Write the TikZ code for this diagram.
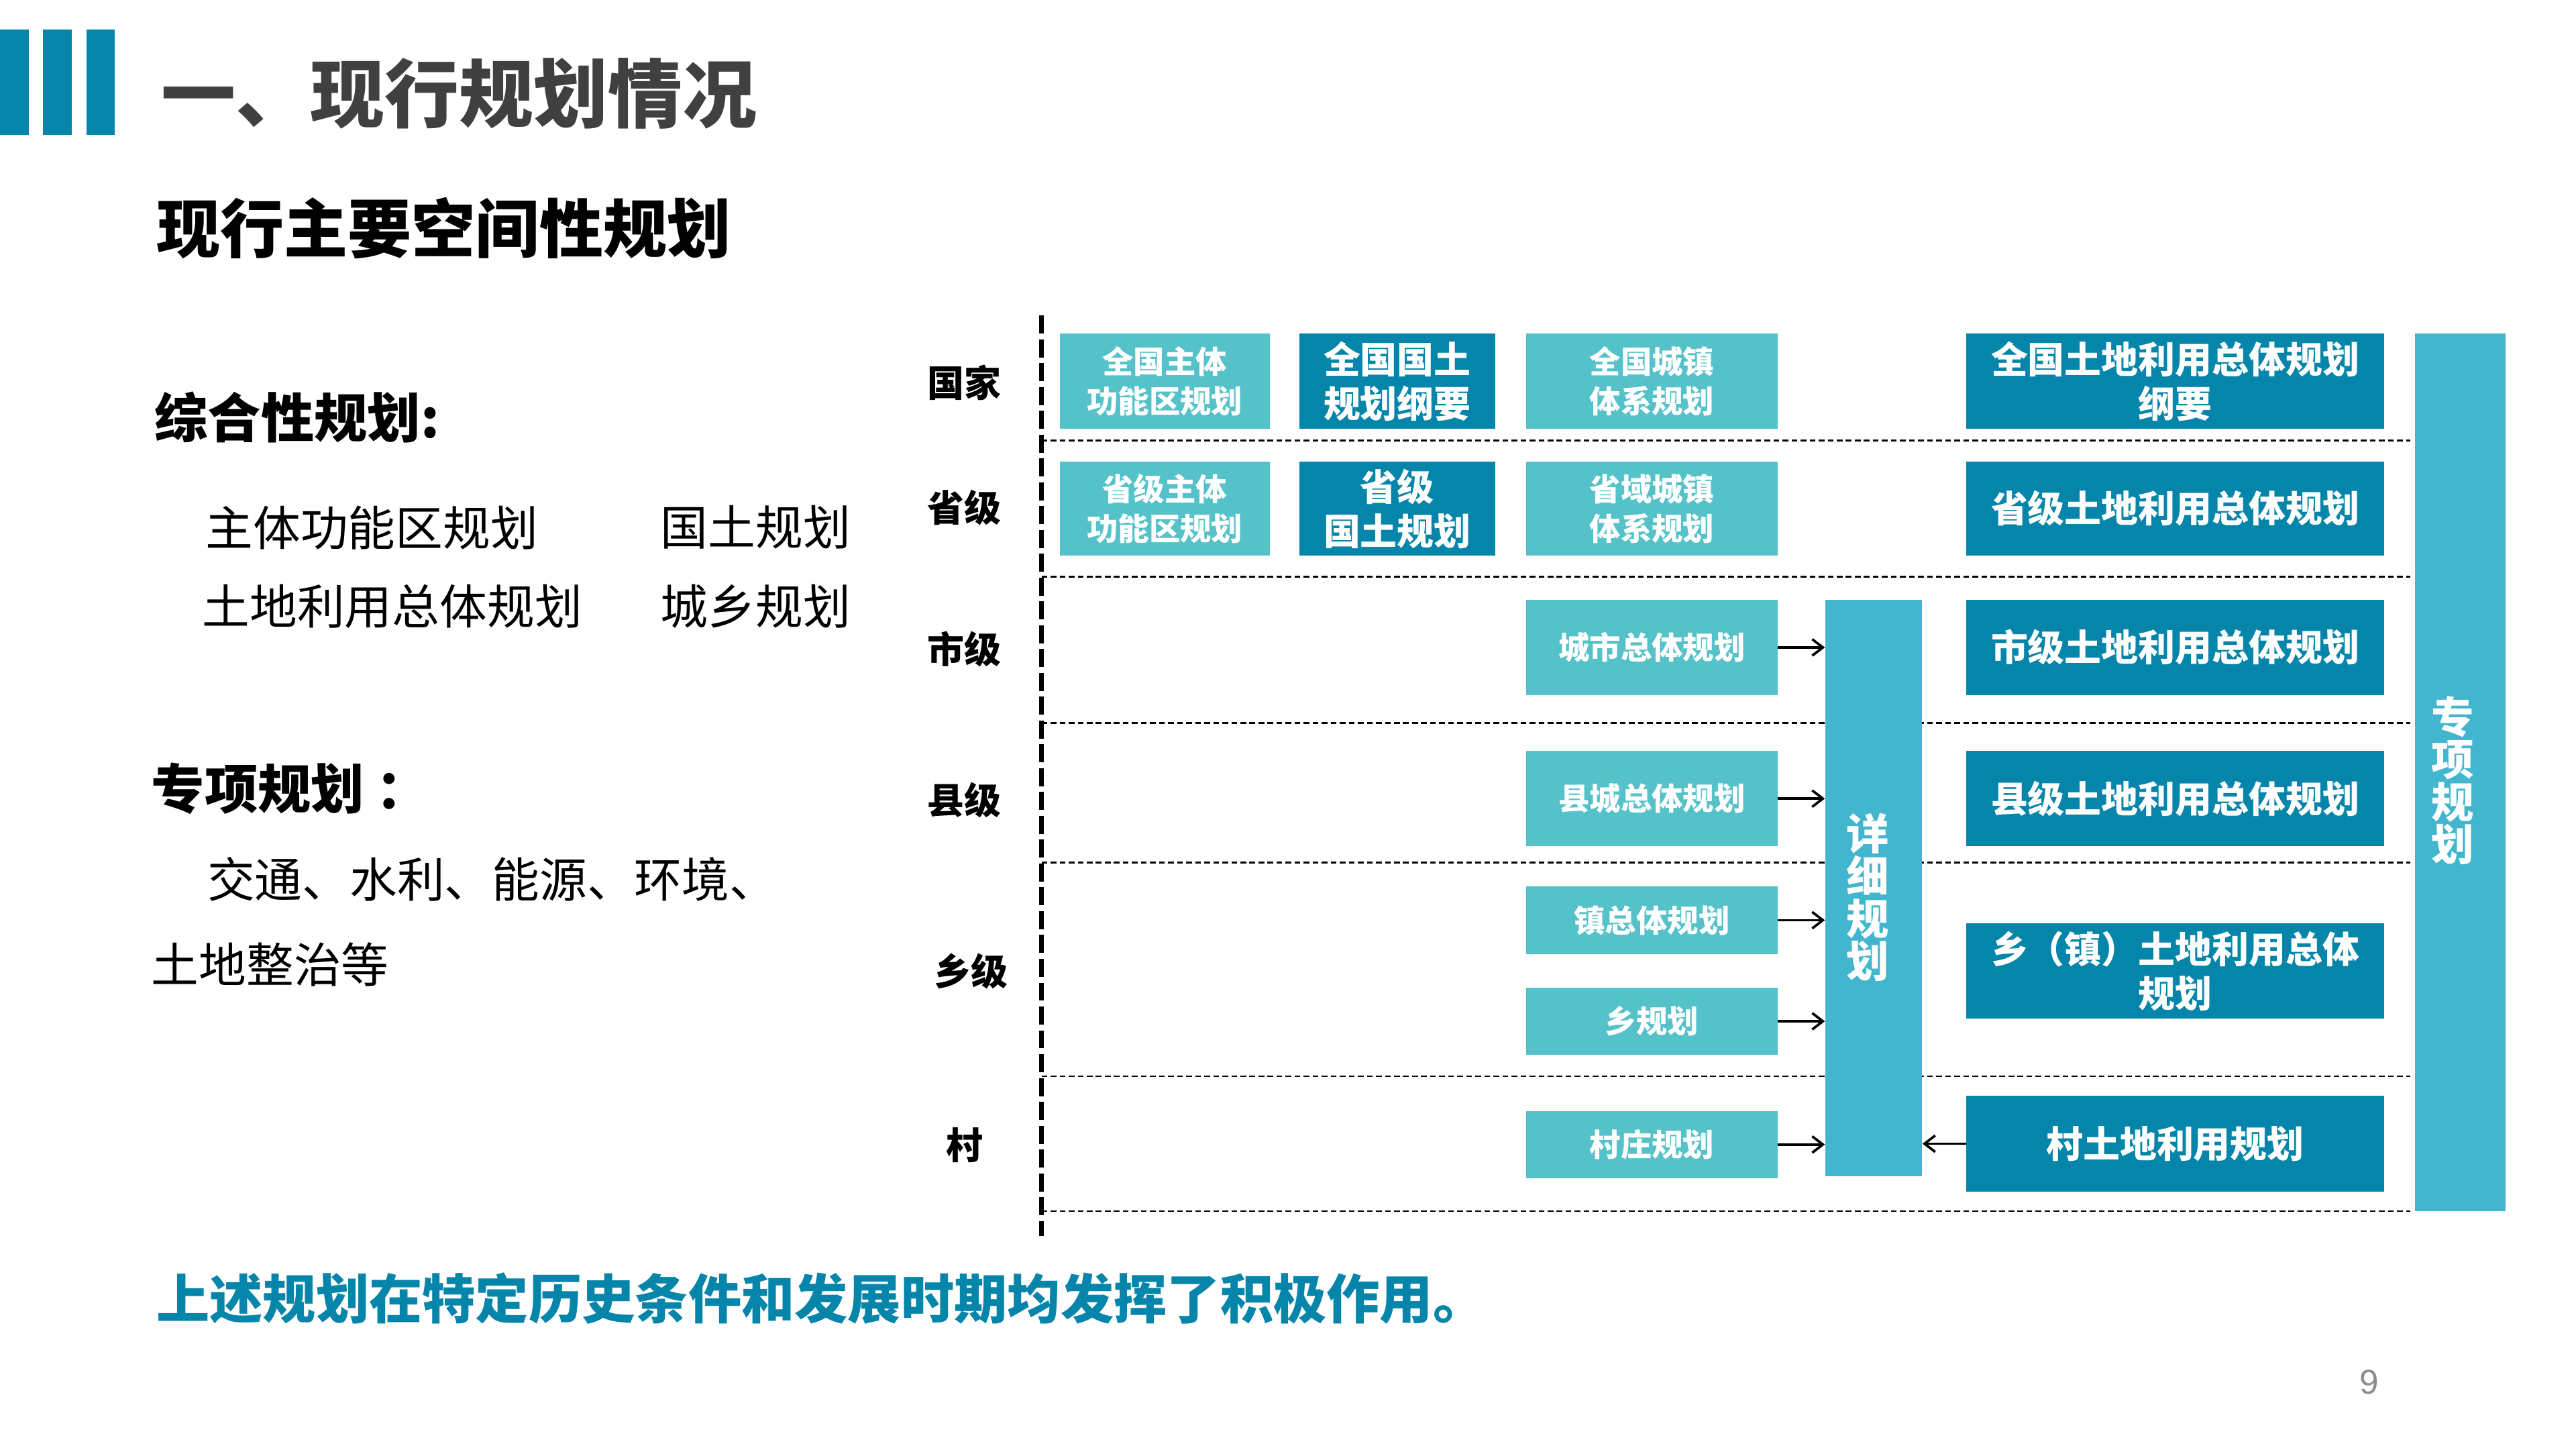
\documentclass[tikz,border=0pt]{standalone}
\usepackage{fontspec}
\setmainfont{Noto Sans CJK SC}
\newfontfamily\numfont{Liberation Sans}
\usetikzlibrary{arrows.meta}
\definecolor{dteal}{HTML}{0585A9}
\definecolor{lteal}{HTML}{55C2C9}
\definecolor{bteal}{HTML}{41B6CE}
\definecolor{tgray}{HTML}{404040}
\definecolor{pgray}{HTML}{8C8C8C}
\newcommand{\fsz}[2]{\fontsize{#1}{#2}\selectfont}
\begin{document}
\begin{tikzpicture}[x=1bp,y=-1bp,
  lbox/.style={fill=lteal,text=white,font=\bfseries\fsz{19}{24},align=center,inner sep=0pt},
  dbox/.style={fill=dteal,text=white,font=\bfseries\fsz{22.5}{27},align=center,inner sep=0pt},
  vbar/.style={fill=bteal,inner sep=0pt},
  vtext/.style={text=white,font=\bfseries\fsz{26}{26},align=center,inner sep=0pt},
  lvl/.style={font=\bfseries\fsz{22.5}{27},inner sep=0pt},
  sepline/.style={line width=1.1bp,dash pattern=on 3.5bp off 2bp},
  axisline/.style={line width=3bp,dash pattern=on 11bp off 3.5bp},
  arr/.style={line width=1.5bp,-{Straight Barb[length=6.5bp,width=10bp,line width=1.5bp]}},
  txt/.style={anchor=west,inner sep=0pt},
  ]
\useasboundingbox (0,0) rectangle (1568,882);
% left bars
\fill[dteal] (0,18) rectangle (17.5,82);
\fill[dteal] (26,18) rectangle (43.5,82);
\fill[dteal] (52.5,18) rectangle (70,82);
% titles
\node[txt,text=tgray,font=\bfseries\fsz{45.5}{50}] (title) at (98,57) {一、现行规划情况};
\node[txt,font=\bfseries\fsz{39}{44}] (subtitle) at (95,139) {现行主要空间性规划};
% left text
\node[txt,font=\bfseries\fsz{32.5}{36}] (zh) at (94,254) {综合性规划:};
\node[txt,font=\fsz{29}{33}] (z1) at (125,321) {主体功能区规划};
\node[txt,font=\fsz{29}{33}] (z2) at (402,321) {国土规划};
\node[txt,font=\fsz{29}{33}] (z3) at (123,369) {土地利用总体规划};
\node[txt,font=\fsz{29}{33}] (z4) at (402,369) {城乡规划};
\node[txt,font=\bfseries\fsz{32.5}{36}] (zx) at (92,480) {专项规划\kern7bp：};
\node[txt,font=\fsz{29}{33}] (x1) at (126,535) {交通、水利、能源、环境、};
\node[txt,font=\fsz{29}{33}] (x2) at (92,587) {土地整治等};
\node[txt,text=dteal,font=\bfseries\fsz{32.5}{36}] (concl) at (95,790) {上述规划在特定历史条件和发展时期均发挥了积极作用。};
\node[text=pgray,font=\numfont\fsz{21}{24},inner sep=0pt] (pg) at (1442,841) {9};
% level labels
\node[lvl] (l1) at (587,233) {国家};
\node[lvl] (l2) at (587,309) {省级};
\node[lvl] (l3) at (587,395) {市级};
\node[lvl] (l4) at (587,487) {县级};
\node[lvl] (l5) at (591,591) {乡级};
\node[lvl] (l6) at (587,697) {村};
% separators
\foreach \yy in {268,351,440,525,655,737}
  \draw[sepline] (634,\yy) -- (1467,\yy);
\draw[axisline] (634,192) -- (634,752);
% boxes column A
\node[lbox,minimum width=128bp,minimum height=58bp] (a1) at (709,232) {全国主体\\功能区规划};
\node[lbox,minimum width=128bp,minimum height=57bp] (a2) at (709,309.5) {省级主体\\功能区规划};
% column B
\node[dbox,minimum width=119bp,minimum height=58bp] (b1) at (850.5,232) {全国国土\\规划纲要};
\node[dbox,minimum width=119bp,minimum height=57bp] (b2) at (850.5,309.5) {省级\\国土规划};
% column C
\node[lbox,minimum width=153bp,minimum height=58bp] (c1) at (1005.5,232) {全国城镇\\体系规划};
\node[lbox,minimum width=153bp,minimum height=57bp] (c2) at (1005.5,309.5) {省域城镇\\体系规划};
\node[lbox,minimum width=153bp,minimum height=58bp] (c3) at (1005.5,394) {城市总体规划};
\node[lbox,minimum width=153bp,minimum height=58bp] (c4) at (1005.5,486) {县城总体规划};
\node[lbox,minimum width=153bp,minimum height=41bp] (c5) at (1005.5,560) {镇总体规划};
\node[lbox,minimum width=153bp,minimum height=41bp] (c6) at (1005.5,621.5) {乡规划};
\node[lbox,minimum width=153bp,minimum height=41bp] (c7) at (1005.5,696.5) {村庄规划};
% column D
\node[dbox,minimum width=254bp,minimum height=58bp] (d1) at (1324,232) {全国土地利用总体规划\\纲要};
\node[dbox,minimum width=254bp,minimum height=57bp] (d2) at (1324,309.5) {省级土地利用总体规划};
\node[dbox,minimum width=254bp,minimum height=58bp] (d3) at (1324,394) {市级土地利用总体规划};
\node[dbox,minimum width=254bp,minimum height=58bp] (d4) at (1324,486) {县级土地利用总体规划};
\node[dbox,minimum width=254bp,minimum height=58bp] (d5) at (1324,591) {乡（镇）土地利用总体\\规划};
\node[dbox,minimum width=254bp,minimum height=58bp] (d6) at (1324,696) {村土地利用规划};
% vertical bars
\node[vbar,minimum width=59bp,minimum height=351bp] (xx) at (1140.5,540.5) {};
\node[vtext] (xxt) at (1137,546) {详\\细\\规\\划};
\node[vbar,minimum width=55bp,minimum height=534bp] (zz) at (1497.5,470) {};
\node[vtext] (zzt) at (1493,475) {专\\项\\规\\划};
% arrows
\foreach \n in {c3,c4,c5,c6,c7}
  \draw[arr] (\n.east) -- (xx.west |- \n.east);
\draw[arr] (d6.west) -- (xx.east |- d6.west);
\end{tikzpicture}
\end{document}
